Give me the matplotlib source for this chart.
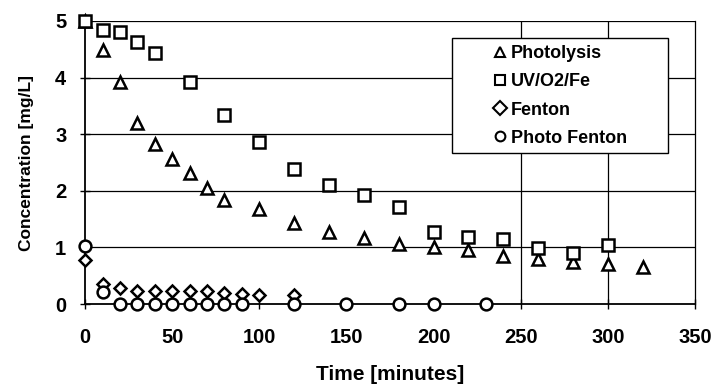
import matplotlib
matplotlib.use("Agg")
import matplotlib.pyplot as plt
from matplotlib.patches import Rectangle

plt.rcParams['font.family'] = ['Liberation Sans', 'DejaVu Sans']
plt.rcParams['font.weight'] = 'bold'

t_photo = [0, 10, 20, 30, 40, 50, 60, 70, 80, 100, 120, 140, 160, 180, 200, 220, 240, 260, 280, 300, 320]
c_photo = [5.0, 4.49, 3.93, 3.19, 2.82, 2.57, 2.31, 2.05, 1.84, 1.67, 1.43, 1.27, 1.16, 1.06, 1.01, 0.95, 0.85, 0.80, 0.74, 0.70, 0.65]

t_uv = [0, 10, 20, 30, 40, 60, 80, 100, 120, 140, 160, 180, 200, 220, 240, 260, 280, 300]
c_uv = [5.0, 4.84, 4.81, 4.63, 4.44, 3.93, 3.34, 2.86, 2.39, 2.11, 1.93, 1.72, 1.28, 1.18, 1.14, 0.99, 0.91, 1.05]

t_fenton = [0, 10, 20, 30, 40, 50, 60, 70, 80, 90, 100, 120]
c_fenton = [0.77, 0.36, 0.28, 0.23, 0.23, 0.23, 0.23, 0.23, 0.19, 0.18, 0.16, 0.16]

t_pf = [0, 10, 20, 30, 40, 50, 60, 70, 80, 90, 120, 150, 180, 200, 230]
c_pf = [1.02, 0.22, 0, 0, 0, 0, 0, 0, 0, 0, 0, 0, 0, 0, 0]

x_ticks = [0, 50, 100, 150, 200, 250, 300, 350]
y_ticks = [0, 1, 2, 3, 4, 5]
x_grid = [250, 300]

fig = plt.figure(figsize=(7.15, 3.86), dpi=100)
ax = fig.add_axes([0.119, 0.2124, 0.853, 0.7332])

for y in y_ticks[1:]:
    ax.axhline(y, color='black', lw=0.9, zorder=1)
for x in x_grid:
    ax.axvline(x, color='black', lw=0.9, zorder=1)

mk = dict(linestyle='none', markerfacecolor='white', markeredgecolor='black',
          markeredgewidth=1.8, markersize=8.5, clip_on=False, zorder=3)
ax.plot(t_photo, c_photo, marker='^', label='Photolysis', **mk)
ax.plot(t_uv, c_uv, marker='s', label='UV/O2/Fe', **mk)
ax.plot(t_fenton, c_fenton, marker='D', label='Fenton', **{**mk, 'markersize': 6.5})
ax.plot(t_pf, c_pf, marker='o', label='Photo Fenton', **mk)

ax.set_xlim(0, 350)
ax.set_ylim(0, 5)
ax.set_xticks(x_ticks)
ax.set_yticks(y_ticks)
ax.tick_params(direction='inout', length=7, width=1, labelsize=14.5)
ax.tick_params(axis='x', pad=14)
ax.tick_params(axis='y', pad=10)
ax.spines['top'].set_visible(False)
for s in ['left', 'bottom']:
    ax.spines[s].set_linewidth(1.3)
ax.spines['right'].set_linewidth(0.9)

ax.set_xlabel('Time [minutes]', fontsize=15, fontweight='bold', labelpad=13)
ax.set_ylabel('Concentration [mg/L]', fontsize=12.5, fontweight='bold', labelpad=15)

# legend frame drawn separately so the entries can sit right of centre
ax.add_patch(Rectangle((0.602, 0.534), 0.354, 0.406, transform=ax.transAxes,
                       facecolor='white', edgecolor='black', lw=1.0, zorder=4,
                       clip_on=False))
leg = ax.legend(loc='center left', bbox_to_anchor=(0.668, 0.735), fontsize=13,
                frameon=False, handletextpad=0.2, handlelength=0.8,
                labelspacing=0.62, borderpad=0, borderaxespad=0)
for h in leg.legend_handles:
    h.set_markersize(7)
    h.set_markeredgewidth(1.5)
leg.set_zorder(5)

fig.savefig('out.png', dpi=100)
